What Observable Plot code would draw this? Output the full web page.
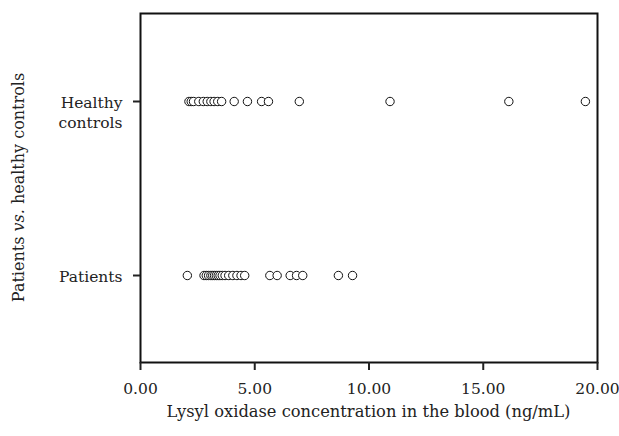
<!DOCTYPE html>
<html>
<head>
<meta charset="utf-8">
<script src="https://cdn.jsdelivr.net/npm/d3@7"></script>
<script src="https://cdn.jsdelivr.net/npm/@observablehq/plot@0.6"></script>
<style>
  html, body { margin: 0; padding: 0; background: #fff; }
  svg { font-family: "DejaVu Serif", serif; }
</style>
</head>
<body>
<div id="chart"></div>
<script>
const groups = ["Healthy controls", "Patients"];
const groupLabels = {"Healthy controls": "Healthy\ncontrols", "Patients": "Patients"};
const healthyValues = [2.12, 2.22, 2.32, 2.55, 2.75, 2.92, 3.08, 3.22, 3.38, 3.55, 4.1, 4.68, 5.3, 5.6, 6.95, 10.92, 16.12, 19.47];
const patientValues = [2.05, 2.78, 2.88, 2.98, 3.08, 3.16, 3.24, 3.32, 3.4, 3.48, 3.58, 3.7, 3.86, 4.04, 4.22, 4.4, 4.56, 5.66, 5.98, 6.55, 6.83, 7.1, 8.66, 9.28];
const xTicks = [0, 5, 10, 15, 20];

const data = [
  ...healthyValues.map(v => ({group: groups[0], value: v})),
  ...patientValues.map(v => ({group: groups[1], value: v}))
];

const chart = Plot.plot({
  width: 619,
  height: 436,
  marginLeft: 140,
  marginRight: 22,
  marginTop: 13,
  marginBottom: 74,
  style: {fontFamily: "DejaVu Serif, serif", fontSize: "15px", color: "#222"},
  x: {domain: [0, 20], ticks: xTicks},
  y: {type: "point", domain: groups, padding: 0.5},
  marks: [
    Plot.frame({stroke: "#111", strokeWidth: 2}),
    Plot.axisX({ticks: xTicks, tickFormat: d3.format(".2f"), tickSize: 8, tickPadding: 12, strokeWidth: 2, fontSize: 15.5, label: null}),
    Plot.axisY({tickFormat: () => "", tickSize: 7, strokeWidth: 2, label: null}),
    Plot.axisY({tickFormat: d => groupLabels[d], tickSize: 0, tickPadding: 18, fontSize: 15.5, lineAnchor: "top", lineHeight: 1.3, dy: -8, label: null}),
    Plot.dot(data, {x: "value", y: "group", r: 4.2, stroke: "#111", strokeWidth: 1, fill: "white"})
  ]
});

const svg = d3.select(chart);
svg.append("text")
  .attr("x", (140 + 597) / 2)
  .attr("y", 417)
  .attr("text-anchor", "middle")
  .attr("font-size", 16.3)
  .attr("fill", "#222")
  .text("Lysyl oxidase concentration in the blood (ng/mL)");

const yt = svg.append("text")
  .attr("transform", `translate(24,${(13 + 362) / 2}) rotate(-90)`)
  .attr("text-anchor", "middle")
  .attr("font-size", 16)
  .attr("fill", "#222");
yt.append("tspan").text("Patients ");
yt.append("tspan").attr("font-style", "italic").text("vs.");
yt.append("tspan").text(" healthy controls");

document.getElementById("chart").appendChild(chart);
</script>
</body>
</html>
